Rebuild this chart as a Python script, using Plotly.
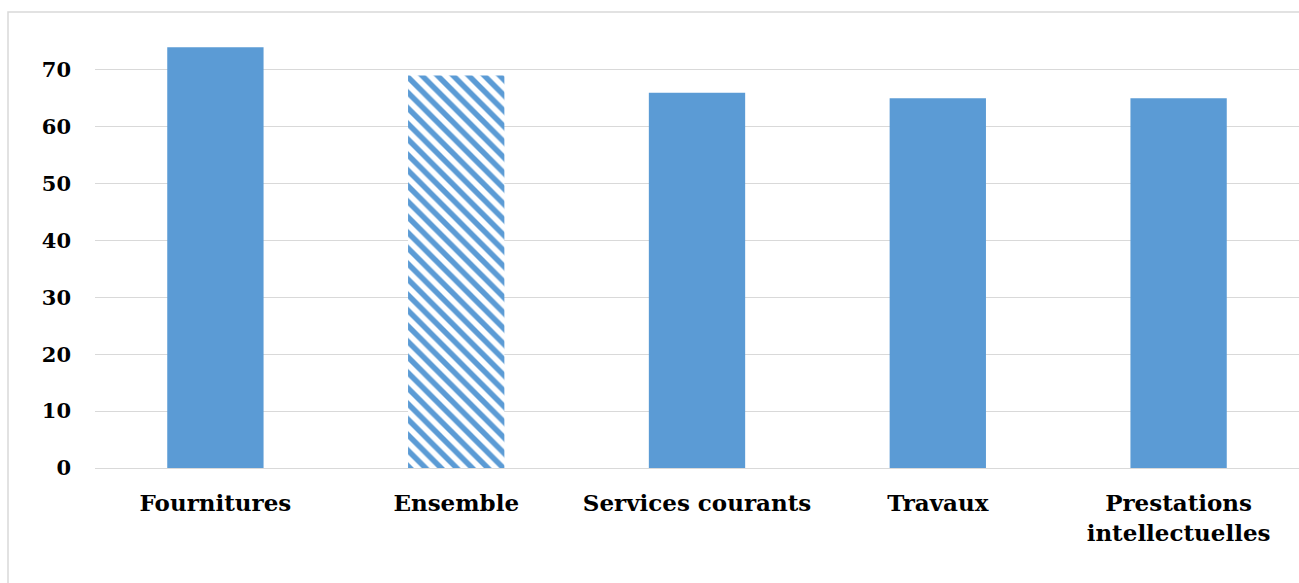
import plotly.graph_objects as go

categories = ["Fournitures", "Ensemble", "Services courants", "Travaux", "Prestations<br>intellectuelles"]
values = [74, 69, 66, 65, 65]
tick_values = [0, 10, 20, 30, 40, 50, 60, 70]

blue = "#5B9BD5"
font_family = "DejaVu Serif"

shapes_pattern = ["", "\\", "", "", ""]

fig = go.Figure(go.Bar(
    x=categories,
    y=values,
    width=0.4,
    marker=dict(
        color=blue,
        line=dict(width=0),
        pattern=dict(shape=shapes_pattern, fgcolor=blue, bgcolor="white",
                     fgopacity=1, size=11, solidity=0.5),
    ),
))

W, H = 1299, 583
ml, mr, mt, mb = 95, 0, 13, 115
pw = W - ml - mr
ph = H - mt - mb

fig.update_layout(
    width=W, height=H,
    margin=dict(l=ml, r=mr, t=mt, b=mb, pad=0),
    paper_bgcolor="white", plot_bgcolor="white",
    showlegend=False,
    font=dict(family=font_family, size=23, color="black"),
    shapes=[dict(type="rect", xref="paper", yref="paper",
                 x0=-(ml - 8) / pw, x1=1.05, y0=-0.5, y1=1 + (mt - 12) / ph,
                 line=dict(color="#d9d9d9", width=1.5), fillcolor="rgba(0,0,0,0)",
                 layer="below")],
)
fig.update_xaxes(showgrid=False, showline=False, ticks="", zeroline=False,
                 tickfont=dict(family=font_family, size=23, color="black", weight="bold"),
                 ticklabelstandoff=19)
fig.update_yaxes(range=[0, 80], tickvals=tick_values, showgrid=True, gridcolor="#d9d9d9",
                 gridwidth=1, zeroline=True, zerolinecolor="#d9d9d9", zerolinewidth=1,
                 showline=False, ticks="",
                 tickfont=dict(family=font_family, size=21, color="black", weight="bold"),
                 ticklabelstandoff=23)

fig.write_html("out.html",
               config={"displayModeBar": False},
               post_script="document.body.style.margin='0';document.documentElement.style.overflow='hidden';document.body.style.overflow='hidden';")
